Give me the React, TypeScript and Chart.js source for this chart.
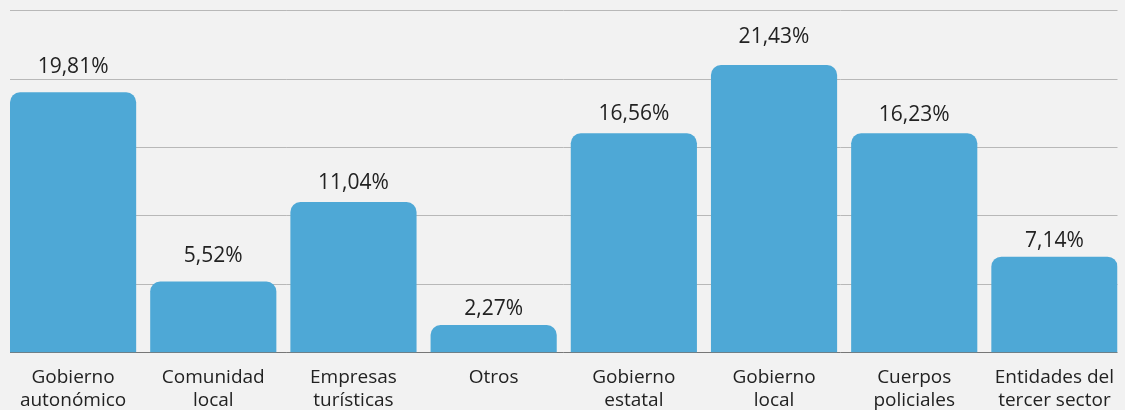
import React, { useEffect, useRef } from "react";
import { Chart, registerables } from "chart.js";

Chart.register(...registerables);

const categories: string[][] = [
  ["Gobierno", "autonómico"],
  ["Comunidad", "local"],
  ["Empresas", "turísticas"],
  ["Otros"],
  ["Gobierno", "estatal"],
  ["Gobierno", "local"],
  ["Cuerpos", "policiales"],
  ["Entidades del", "tercer sector"],
];

// bar heights (axis 0–25)
const barValues: number[] = [19.04, 5.2, 11.02, 2.02, 16.04, 21.03, 16.04, 7.02];

// value labels printed above the bars
const valueLabels: string[] = ["19,81%", "5,52%", "11,04%", "2,27%", "16,56%", "21,43%", "16,23%", "7,14%"];

// height (axis units) of each label's baseline
const labelLevels: number[] = [20.42, 6.65, 11.97, 2.76, 17.01, 22.62, 16.96, 7.7];

const yTicks: number[] = [0, 5, 10, 15, 20, 25];

const FONT = "'Open Sans', 'Noto Sans', sans-serif";

export default function App() {
  const canvasRef = useRef<HTMLCanvasElement | null>(null);

  useEffect(() => {
    document.body.style.margin = "0";
    const canvas = canvasRef.current;
    if (!canvas) return;

    const valueLabelPlugin = {
      id: "valueLabels",
      afterDatasetsDraw(chart: any) {
        const ctx = chart.ctx;
        const meta = chart.getDatasetMeta(0);
        const yScale = chart.scales.y;
        ctx.save();
        ctx.font = `21px ${FONT}`;
        ctx.fillStyle = "#222222";
        ctx.textAlign = "center";
        ctx.textBaseline = "alphabetic";
        meta.data.forEach((bar: any, i: number) => {
          ctx.fillText(valueLabels[i], bar.x, yScale.getPixelForValue(labelLevels[i]));
        });
        ctx.restore();
      },
    };

    const chart = new Chart(canvas, {
      type: "bar",
      data: {
        datasets: [
          {
            data: barValues.map((v, i) => ({ x: i, y: v })),
            backgroundColor: "#4ea8d6",
            borderRadius: 10,
            borderSkipped: "start",
            categoryPercentage: 0.9,
            barPercentage: 1,
          },
        ],
      },
      options: {
        animation: false,
        responsive: false,
        maintainAspectRatio: false,
        layout: { padding: { left: 10, right: 7.5, top: 10.7, bottom: 0 } },
        plugins: {
          legend: { display: false },
          tooltip: { enabled: false },
        },
        scales: {
          x: {
            type: "linear",
            min: -0.45,
            max: categories.length - 1 + 0.45,
            offset: false,
            grid: { display: false, drawTicks: false },
            border: { display: false },
            afterBuildTicks: (scale: any) => {
              scale.ticks = categories.map((_, i) => ({ value: i }));
            },
            afterFit: (scale: any) => {
              scale.height = 57.3;
              scale.paddingLeft = 0;
              scale.paddingRight = 0;
            },
            ticks: {
              autoSkip: false,
              maxRotation: 0,
              minRotation: 0,
              padding: 13.7,
              color: "#222222",
              font: { family: FONT, size: 19, lineHeight: 1.2 },
              callback: (value: any) => categories[Math.round(Number(value))] ?? "",
            },
          },
          y: {
            min: 0,
            max: 25,
            afterBuildTicks: (scale: any) => {
              scale.ticks = yTicks.map((v) => ({ value: v }));
            },
            afterFit: (scale: any) => {
              scale.width = 0;
            },
            ticks: { display: false },
            border: { display: false },
            grid: {
              drawTicks: false,
              lineWidth: 1,
              color: (ctx: any) => (ctx.tick && ctx.tick.value === 0 ? "#777777" : "#b8b8b8"),
            },
          },
        },
      } as any,
      plugins: [valueLabelPlugin],
    });

    return () => chart.destroy();
  }, []);

  return (
    <div style={{ position: "relative", width: 1125, height: 410, background: "#f2f2f2" }}>
      <canvas ref={canvasRef} width={1125} height={410} style={{ display: "block" }} />
    </div>
  );
}
